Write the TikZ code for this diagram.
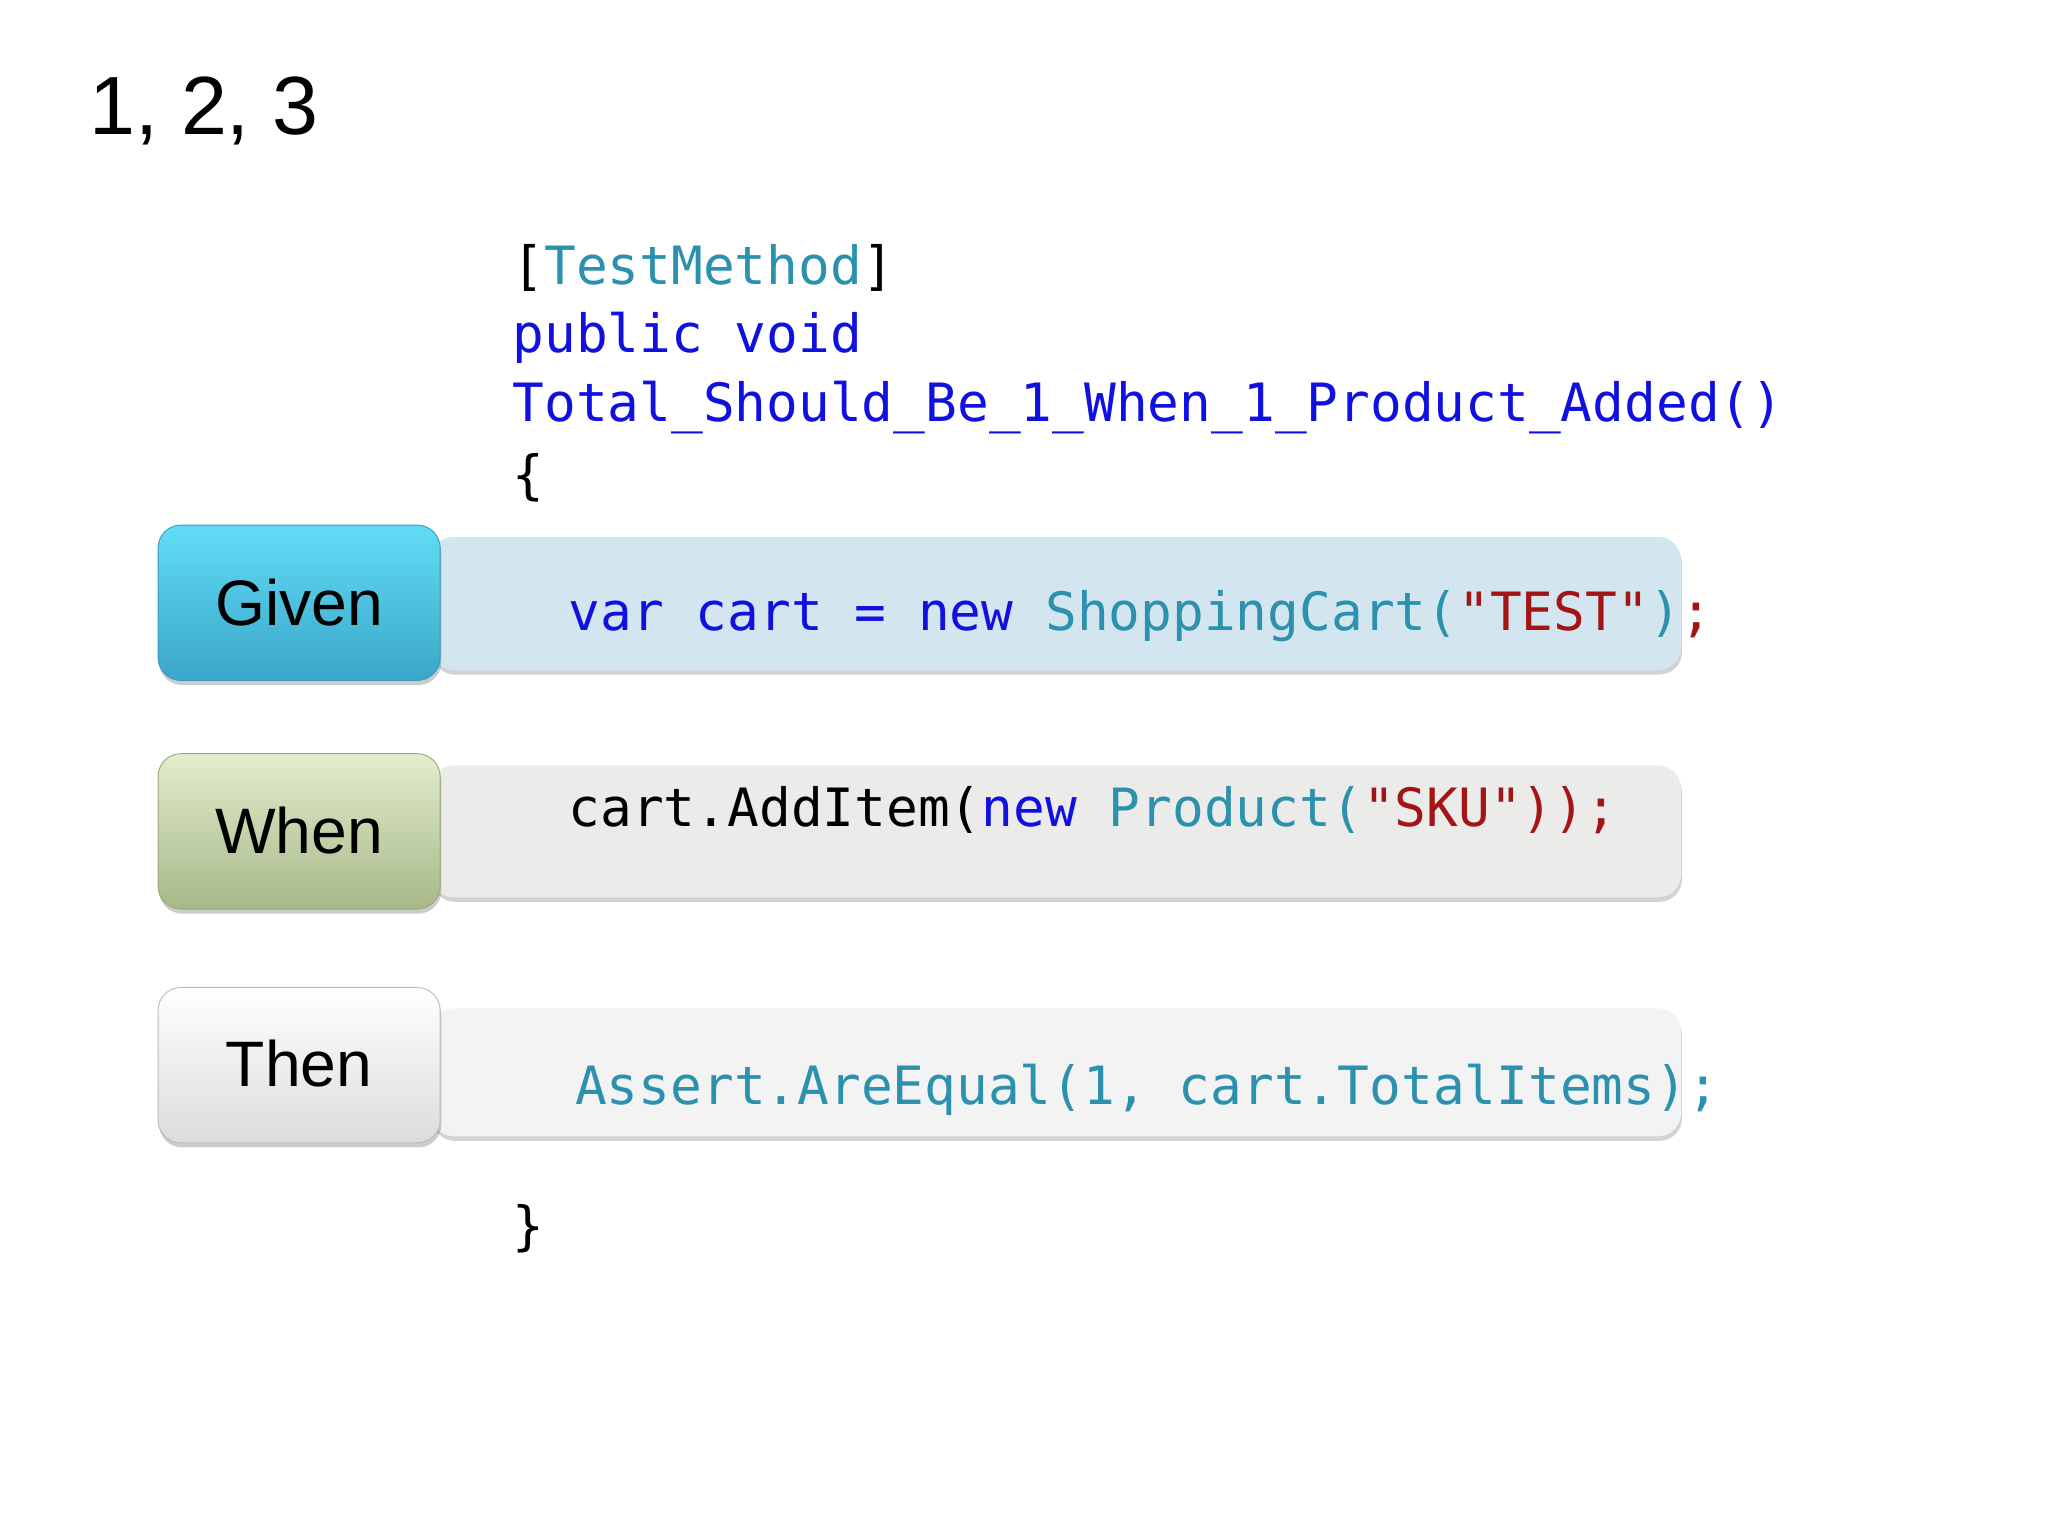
\documentclass[tikz,border=0pt]{standalone}
\usepackage{fontspec}
\setmainfont{Liberation Sans}
\setmonofont{DejaVu Sans Mono}
\usetikzlibrary{shadows}
\definecolor{kw}{HTML}{1010E0}
\definecolor{ty}{HTML}{2B91AF}
\definecolor{st}{HTML}{A31515}
\definecolor{barA}{HTML}{D3E5EE}
\definecolor{barB}{HTML}{EBEBE9}
\definecolor{barC}{HTML}{F3F3F3}
\definecolor{gT}{HTML}{62DCF6}
\definecolor{gB}{HTML}{3AA6C9}
\definecolor{gD}{HTML}{3A9BBB}
\definecolor{wT}{HTML}{E2EDCD}
\definecolor{wB}{HTML}{A7B888}
\definecolor{wD}{HTML}{9AAA7E}
\definecolor{tB}{HTML}{DCDCDC}
\definecolor{tD}{HTML}{BBBBBB}
\tikzset{
 code/.style={anchor=base west,inner sep=0pt,font=\ttfamily\fontsize{23}{28}\selectfont},
 bar/.style={rounded corners=10pt,draw=none,drop shadow={shadow xshift=0.5pt,shadow yshift=-2pt,opacity=0.35}},
 lab/.style={rounded corners=10pt,drop shadow={shadow xshift=0.5pt,shadow yshift=-2pt,opacity=0.4}},
 labt/.style={font=\fontsize{28}{32}\selectfont}
}
\begin{document}
\begin{tikzpicture}[x=0.02cm,y=-0.02cm]
\useasboundingbox (0,0) rectangle (1568,1176);
\node[anchor=base west,inner sep=0pt,font=\fontsize{36}{40}\selectfont] (title) at (68,103) {1, 2, 3};
\node[code] (l1) at (392,218) {[\textcolor{ty}{TestMethod}]};
\node[code,kw] (l2) at (392,270) {public void};
\node[code,kw] (l3) at (392,323) {Total\_Should\_Be\_1\_When\_1\_Product\_Added()};
\node[code] (l4) at (392,378) {\{};
\path[bar,fill=barA] (330,411) rectangle (1287,513);
\path[bar,fill=barB] (330,586) rectangle (1287,687);
\path[bar,fill=barC] (330,772) rectangle (1287,870);
\path[lab,top color=gT,bottom color=gB,draw=gD] (121,402) rectangle (337,521);
\node[labt] (given) at (229,461) {Given};
\path[lab,top color=wT,bottom color=wB,draw=wD] (121,577) rectangle (337,696);
\node[labt] (when) at (229,636) {When};
\path[lab,top color=white,bottom color=tB,draw=tD] (121,756) rectangle (337,875);
\node[labt] (then) at (229,814) {Then};
\node[code] (c1) at (435,483) {\textcolor{kw}{var cart = new} \textcolor{ty}{ShoppingCart(}\textcolor{st}{"TEST"}\textcolor{ty}{)}\textcolor{st}{;}};
\node[code] (c2) at (435,633) {cart.AddItem(\textcolor{kw}{new} \textcolor{ty}{Product(}\textcolor{st}{"SKU"));}};
\node[code,ty] (c3) at (440,846) {Assert.AreEqual(1, cart.TotalItems);};
\node[code] (l5) at (392,953) {\}};
\end{tikzpicture}
\end{document}
